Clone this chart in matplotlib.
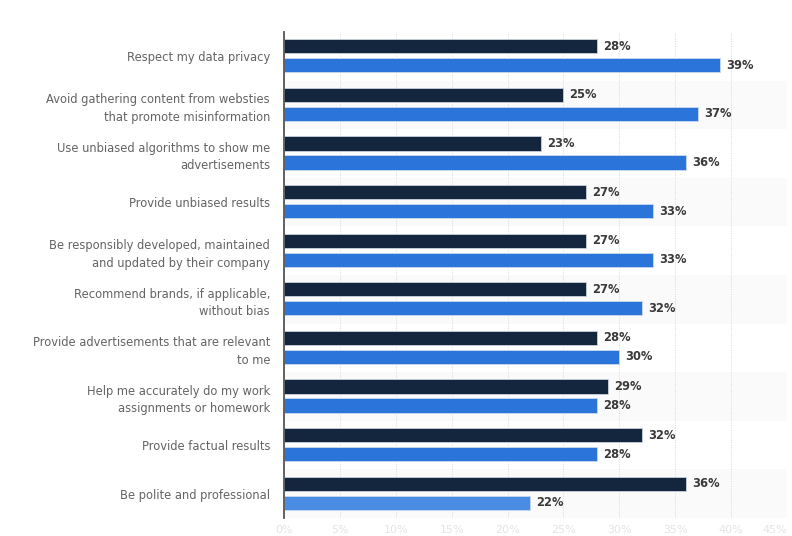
import matplotlib
matplotlib.use("Agg")
import matplotlib.pyplot as plt
import numpy as np

categories = [
    "Respect my data privacy",
    "Avoid gathering content from websties\nthat promote misinformation",
    "Use unbiased algorithms to show me\nadvertisements",
    "Provide unbiased results",
    "Be responsibly developed, maintained\nand updated by their company",
    "Recommend brands, if applicable,\nwithout bias",
    "Provide advertisements that are relevant\nto me",
    "Help me accurately do my work\nassignments or homework",
    "Provide factual results",
    "Be polite and professional",
]
series_dark = [28, 25, 23, 27, 27, 27, 28, 29, 32, 36]
series_blue = [39, 37, 36, 33, 33, 32, 30, 28, 28, 22]
xticks = [0, 5, 10, 15, 20, 25, 30, 35, 40, 45]
xticklabels = [f"{t}%" for t in xticks]

plt.rcParams['font.family'] = ['DejaVu Sans']

fig = plt.figure(figsize=(7.92, 5.36), dpi=100)
ax = fig.add_axes([284/792, 1-518/536, (787-284)/792, (518-32)/536])

n = len(categories)
y = np.arange(n)
h = 0.29
dark_c = "#13263d"
blue_c = "#2b75da"

# alternating row shading
for i in range(n):
    if i % 2 == 1:
        ax.axhspan(i-0.5, i+0.5, color="#fafafa", zorder=0, lw=0)

ax.barh(y-0.205, series_dark, height=h, color=dark_c, edgecolor="#c9d2dc", linewidth=0.6, zorder=3)
blue_colors = [blue_c]*(n-1) + ["#4a8be4"]
ax.barh(y+0.185, series_blue, height=h, color=blue_colors, edgecolor="#c9d9f0", linewidth=0.6, zorder=3)

for i in range(n):
    ax.text(series_dark[i]+0.55, y[i]-0.205, f"{series_dark[i]}%", va="center", ha="left",
            fontsize=8.3, fontweight="bold", color="#3a3a3a", zorder=4)
    ax.text(series_blue[i]+0.55, y[i]+0.185, f"{series_blue[i]}%", va="center", ha="left",
            fontsize=8.3, fontweight="bold", color="#3a3a3a", zorder=4)

ax.set_xlim(0, 45)
ax.set_ylim(n-0.5, -0.5)
ax.set_yticks(y)
ax.set_yticklabels(categories, fontsize=8.3, color="#646464", linespacing=1.45)
ax.set_xticks(xticks)
ax.set_xticklabels(xticklabels, fontsize=8, color="#e4e4e4")
ax.get_xticklabels()[-1].set_ha("right")
ax.tick_params(axis="y", length=0, pad=10)
ax.tick_params(axis="x", length=0, pad=5)
ax.grid(axis="x", linestyle=(0, (1, 1.5)), color="#d8d8d8", linewidth=0.7, zorder=1)
ax.set_axisbelow(True)
for s in ["top", "right", "bottom"]:
    ax.spines[s].set_visible(False)
ax.spines["left"].set_color("#555555")
ax.spines["left"].set_linewidth(1.3)
ax.spines["left"].set_zorder(5)
ax.set_facecolor("white")

fig.savefig("out.png", dpi=100)
